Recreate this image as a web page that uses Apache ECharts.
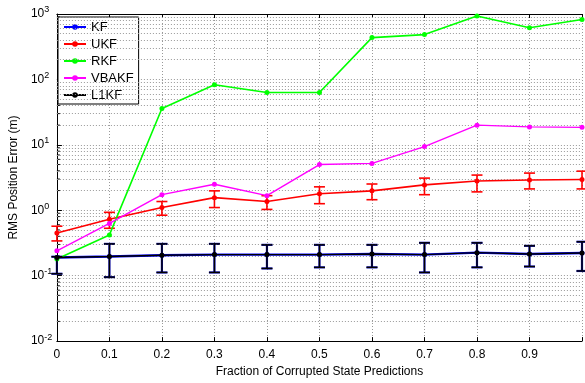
<!DOCTYPE html>
<html>
<head>
<meta charset="utf-8">
<script src="https://cdn.jsdelivr.net/npm/echarts@6/dist/echarts.min.js"></script>
<style>
  html, body { margin: 0; padding: 0; background: #fff; }
  #chart { width: 585px; height: 383px; }
</style>
</head>
<body>
<div id="chart"></div>
<script>
// Fraction of corrupted state predictions (x axis)
var fractions = [0, 0.1, 0.2, 0.3, 0.4, 0.5, 0.6, 0.7, 0.8, 0.9, 1.0];

// RMS position error (m) per filter
var kf    = [0.19, 0.196, 0.205, 0.21, 0.21, 0.21, 0.215, 0.21, 0.225, 0.215, 0.222];
var kfLo  = [0.107, 0.095, 0.112, 0.112, 0.129, 0.134, 0.134, 0.112, 0.134, 0.138, 0.118];
var kfHi  = [0.195, 0.306, 0.306, 0.306, 0.296, 0.296, 0.296, 0.318, 0.318, 0.286, 0.33];

var ukf   = [0.45, 0.73, 1.10, 1.56, 1.36, 1.79, 1.98, 2.44, 2.8, 2.9, 2.95];
var ukfLo = [0.34, 0.53, 0.84, 1.10, 1.03, 1.26, 1.45, 1.73, 1.91, 2.12, 2.12];
var ukfHi = [0.57, 0.93, 1.36, 1.98, 1.67, 2.28, 2.52, 3.1, 3.45, 3.7, 3.96];

var rkf   = [0.18, 0.42, 36, 83, 63, 63, 436, 484, 930, 617, 826];

var vbakf = [0.24, 0.63, 1.73, 2.5, 1.67, 5.0, 5.2, 9.4, 20, 18.8, 18.5];

var l1kf   = [0.19, 0.196, 0.205, 0.21, 0.21, 0.21, 0.215, 0.21, 0.225, 0.215, 0.222];
var l1kfLo = [0.107, 0.095, 0.112, 0.112, 0.129, 0.134, 0.134, 0.112, 0.134, 0.138, 0.118];
var l1kfHi = [0.195, 0.306, 0.306, 0.306, 0.296, 0.296, 0.296, 0.318, 0.318, 0.286, 0.33];

// Axis ticks
var xTicks = [0, 0.1, 0.2, 0.3, 0.4, 0.5, 0.6, 0.7, 0.8, 0.9];
var decades = [0.01, 0.1, 1, 10, 100, 1000];
var minorValues = [];
decades.slice(0, -1).forEach(function (d) {
  for (var k = 2; k <= 9; k++) minorValues.push(+(d * k).toPrecision(3));
});

var FONT = 'Liberation Sans, Arial, Helvetica, sans-serif';
var gridDot = { color: '#999999', width: 1, type: [1, 2] };

function pairs(ys) { return fractions.map(function (x, i) { return [x, ys[i]]; }); }
function bars(lo, hi) { return fractions.map(function (x, i) { return [x, lo[i], hi[i]]; }); }

function errorBarSeries(name, color, lo, hi, width, z) {
  return {
    name: name,
    type: 'custom',
    z: z,
    silent: true,
    clip: false,
    data: bars(lo, hi),
    renderItem: function (params, api) {
      var x = api.value(0);
      var pLo = api.coord([x, api.value(1)]);
      var pHi = api.coord([x, api.value(2)]);
      var cap = 5.5;
      var st = { stroke: color, lineWidth: width };
      return {
        type: 'group',
        children: [
          { type: 'line', shape: { x1: pLo[0], y1: pLo[1], x2: pHi[0], y2: pHi[1] }, style: st },
          { type: 'line', shape: { x1: pHi[0] - cap, y1: pHi[1], x2: pHi[0] + cap, y2: pHi[1] }, style: st },
          { type: 'line', shape: { x1: pLo[0] - cap, y1: pLo[1], x2: pLo[0] + cap, y2: pLo[1] }, style: st }
        ]
      };
    }
  };
}

function lineSeries(name, color, ys, width, z) {
  return {
    name: name,
    type: 'line',
    z: z,
    data: pairs(ys),
    symbol: 'circle',
    symbolSize: 5,
    clip: false,
    lineStyle: { color: color, width: width },
    itemStyle: { color: color },
    emphasis: { disabled: true },
    animation: false
  };
}

var chart = echarts.init(document.getElementById('chart'), null, { renderer: 'canvas' });

chart.setOption({
  animation: false,
  backgroundColor: '#ffffff',
  grid: { left: 53, top: 14, width: 535, height: 333, containLabel: false },
  legend: {
    orient: 'vertical',
    left: 58,
    top: 17,
    data: ['KF', 'UKF', 'RKF', 'VBAKF', 'L1KF'],
    backgroundColor: '#ffffff',
    borderColor: '#000000',
    borderWidth: 1,
    padding: [3, 5, 2, 5],
    itemGap: 3,
    itemWidth: 22,
    itemHeight: 7,
    textStyle: { fontFamily: FONT, fontSize: 13, color: '#000', lineHeight: 14 }
  },
  xAxis: [{
    type: 'value',
    min: 0,
    max: 1,
    interval: 0.1,
    name: 'Fraction of Corrupted State Predictions',
    nameLocation: 'middle',
    nameGap: 22,
    nameTextStyle: { fontFamily: FONT, fontSize: 12, color: '#000' },
    axisLine: { show: true, lineStyle: { color: '#000', width: 1 } },
    axisTick: { show: true, inside: true, length: 4, lineStyle: { color: '#000' } },
    axisLabel: {
      margin: 8,
      fontFamily: FONT, fontSize: 12, color: '#000',
      formatter: function (v) {
        var r = Math.round(v * 10) / 10;
        return xTicks.indexOf(r) >= 0 ? String(r) : '';
      }
    },
    splitLine: { show: true, lineStyle: gridDot }
  }, {
    type: 'value',
    position: 'top',
    min: 0,
    max: 1,
    interval: 0.1,
    axisLine: { show: true, onZero: false, lineStyle: { color: '#000', width: 1 } },
    axisTick: { show: true, inside: true, length: 4, lineStyle: { color: '#000' } },
    axisLabel: { show: false },
    splitLine: { show: false }
  }],
  yAxis: {
    type: 'log',
    logBase: 10,
    min: 0.01,
    max: 1000,
    splitNumber: 5,
    name: 'RMS Position Error (m)',
    nameLocation: 'middle',
    nameGap: 32,
    nameTextStyle: { fontFamily: FONT, fontSize: 12, color: '#000' },
    axisLine: { show: true, lineStyle: { color: '#000', width: 1 } },
    axisTick: { show: true, inside: true, length: 5, lineStyle: { color: '#000' } },
    axisLabel: {
      margin: 26,
      align: 'left',
      formatter: function (v) {
        var e = Math.round(Math.log10(v));
        return '{b|10}{e|' + e + '}';
      },
      rich: {
        b: { fontFamily: FONT, fontSize: 12, color: '#000' },
        e: { fontFamily: FONT, fontSize: 9, color: '#000', padding: [0, 0, 8, 0] }
      }
    },
    splitLine: { show: true, lineStyle: gridDot }
  },
  series: [
    // minor log grid lines and minor ticks
    {
      name: 'minor-grid',
      type: 'line',
      data: [],
      silent: true,
      z: 1,
      markLine: {
        silent: true,
        symbol: ['none', 'none'],
        label: { show: false },
        lineStyle: gridDot,
        animation: false,
        data: minorValues.map(function (v) { return { yAxis: v }; })
      }
    },
    {
      name: 'minor-ticks',
      type: 'custom',
      silent: true,
      z: 3,
      data: minorValues.map(function (v) { return [0, v]; }),
      renderItem: function (params, api) {
        var p = api.coord([api.value(0), api.value(1)]);
        return {
          type: 'line',
          shape: { x1: p[0], y1: p[1], x2: p[0] + 3, y2: p[1] },
          style: { stroke: '#000', lineWidth: 1 }
        };
      }
    },
    errorBarSeries('kf-err', '#1010c0', kfLo, kfHi, 2.2, 4),
    lineSeries('KF', '#0000ff', kf, 2.4, 5),
    errorBarSeries('ukf-err', '#ff0000', ukfLo, ukfHi, 1.6, 6),
    lineSeries('UKF', '#ff0000', ukf, 1.6, 7),
    lineSeries('RKF', '#00ff00', rkf, 1.6, 8),
    lineSeries('VBAKF', '#ff00ff', vbakf, 1.4, 9),
    errorBarSeries('l1kf-err', '#000000', l1kfLo, l1kfHi, 1.4, 10),
    lineSeries('L1KF', '#000000', l1kf, 1.4, 11)
  ]
});
</script>
</body>
</html>
